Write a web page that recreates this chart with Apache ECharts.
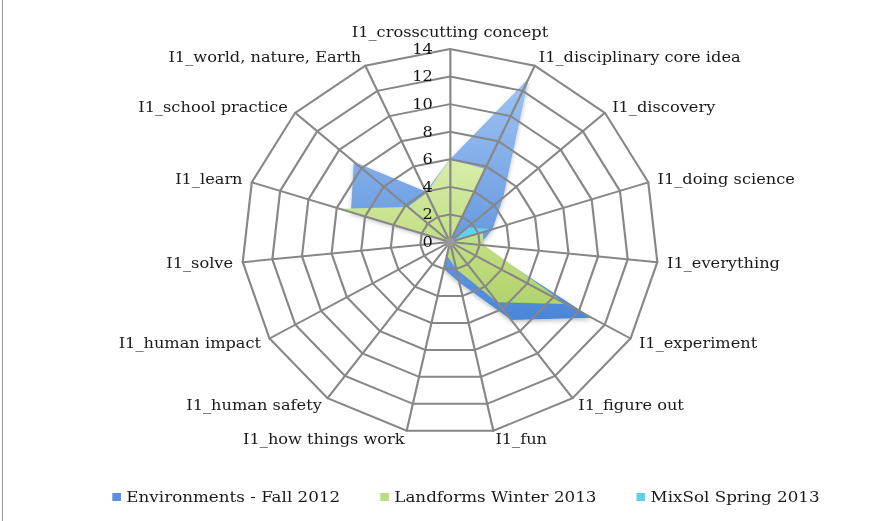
<!DOCTYPE html>
<html>
<head>
<meta charset="utf-8">
<script src="https://cdn.jsdelivr.net/npm/echarts@6/dist/echarts.min.js"></script>
<style>
  html, body { margin: 0; padding: 0; background: #fff; overflow: hidden; }
  /* the original chart is a little wider than tall, so the whole drawing is stretched */
  #chart {
    width: 816px;
    height: 521px;
    transform: scaleX(1.08);
    transform-origin: 0 0;
  }
</style>
</head>
<body>
<div id="chart"></div>
<script>
  // categories in clockwise order, starting at the top
  const categories = [
    'I1_crosscutting concept', 'I1_disciplinary core idea', 'I1_discovery',
    'I1_doing science', 'I1_everything', 'I1_experiment', 'I1_figure out',
    'I1_fun', 'I1_how things work', 'I1_human safety', 'I1_human impact',
    'I1_solve', 'I1_learn', 'I1_school practice', 'I1_world, nature, Earth'
  ]
  const seriesNames = ['Environments - Fall 2012', 'Landforms Winter 2013', 'MixSol Spring 2013']
  const environments = [6, 13, 4.8, 3, 2, 11, 7, 3, 2, 0, 0, 0, 7, 8.7, 4]
  const landforms = [6, 5.8, 0, 2.3, 2.3, 9, 5.4, 2, 1, 0, 0, 0, 7.8, 3.8, 3.9]
  const mixsol = [0, 0, 1.6, 3, 0, 0, 0, 0, 0, 0, 0, 3.2, 0, 0, 0]
  const axisMax = 14
  const axisStep = 2

  // echarts lays indicators out counter-clockwise, so flip the order
  const n = categories.length
  const flip = (arr) => arr.map((_, j) => arr[(n - j) % n])

  const serif = 'DejaVu Serif'
  const colors = ['#5a90dc', '#bcdb80', '#5fd0ec']
  const cx = 416.7
  const cy = 242

  const chart = echarts.init(document.getElementById('chart'), null, { renderer: 'svg' })

  const indicator = flip(categories).map((name, j) => {
    const item = { name: name, min: 0, max: axisMax }
    if (j === 0) item.axisLabel = { show: true }
    return item
  })

  const option = {
    animation: false,
    color: colors,
    graphic: [
      { type: 'line', shape: { x1: 2.3, y1: 0, x2: 2.3, y2: 521 }, style: { stroke: '#9a9a9a', lineWidth: 1 } },
      { type: 'circle', z: 10, shape: { cx: cx, cy: cy, r: 4.5 }, style: { fill: '#999' } }
    ],
    legend: {
      top: 484,
      left: 99,
      icon: 'rect',
      itemWidth: 8,
      itemHeight: 8,
      itemGap: 37,
      textStyle: { fontFamily: serif, fontSize: 15.5, color: '#1a1a1a' },
      data: seriesNames
    },
    radar: {
      z: 3,
      center: [cx, cy],
      radius: 193,
      shape: 'polygon',
      splitNumber: axisMax / axisStep,
      nameGap: 9,
      axisName: { fontFamily: serif, fontSize: 15, color: '#1a1a1a' },
      axisLine: { lineStyle: { color: '#878787', width: 2 } },
      splitLine: { lineStyle: { color: '#878787', width: 2 } },
      splitArea: { show: false },
      axisTick: { show: false },
      axisLabel: {
        show: false,
        fontFamily: serif,
        fontSize: 15,
        color: '#111',
        margin: 16
      },
      indicator: indicator
    },
    series: [
      {
        type: 'radar',
        symbol: 'none',
        data: [
          {
            name: seriesNames[0],
            value: flip(environments),
            lineStyle: { width: 0 },
            areaStyle: {
              opacity: 1,
              color: new echarts.graphic.LinearGradient(0, 0, 0, 1, [
                { offset: 0, color: '#a0c3f2' },
                { offset: 1, color: '#4a86d8' }
              ]),
              shadowBlur: 4,
              shadowColor: 'rgba(0,0,0,0.25)',
              shadowOffsetY: 2
            }
          },
          {
            name: seriesNames[1],
            value: flip(landforms),
            lineStyle: { width: 0 },
            areaStyle: {
              opacity: 1,
              color: new echarts.graphic.LinearGradient(0, 0, 0, 1, [
                { offset: 0, color: '#d8eda9' },
                { offset: 1, color: '#b2d36a' }
              ])
            }
          },
          {
            name: seriesNames[2],
            value: flip(mixsol),
            lineStyle: { width: 0 },
            areaStyle: { opacity: 1, color: '#62d2ee' }
          }
        ]
      }
    ]
  }

  chart.setOption(option)
</script>
</body>
</html>
